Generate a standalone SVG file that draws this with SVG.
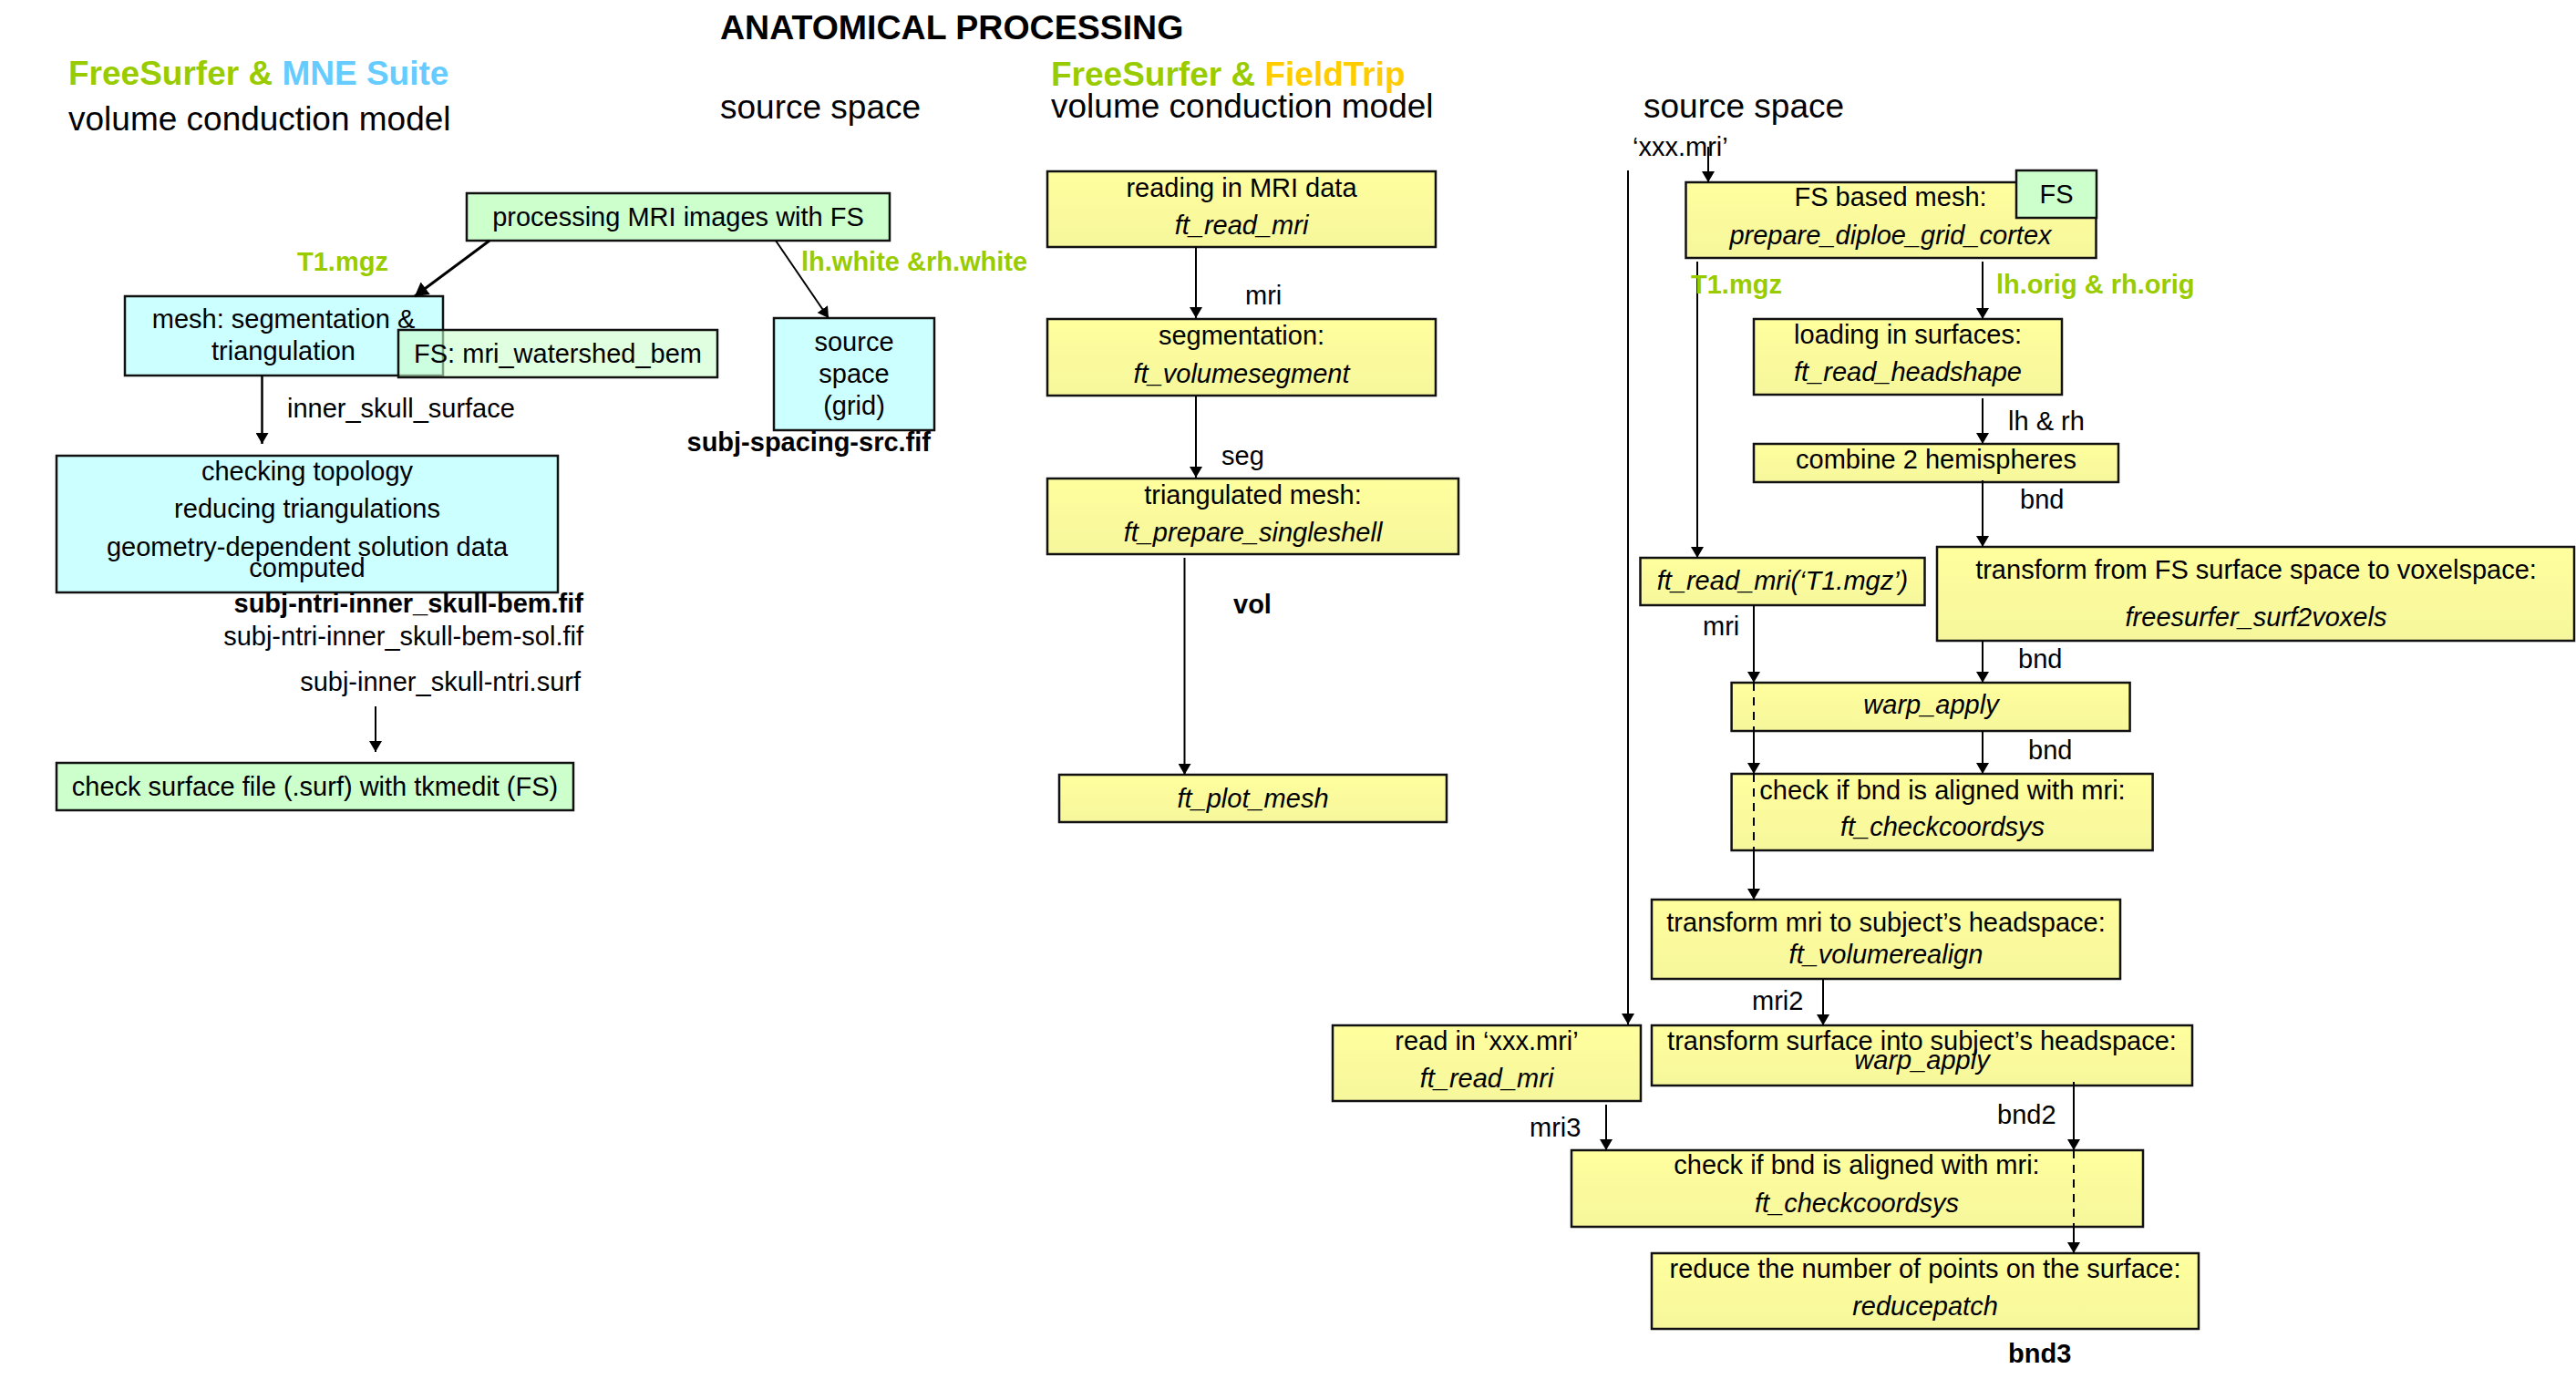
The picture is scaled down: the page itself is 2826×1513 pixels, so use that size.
<svg xmlns="http://www.w3.org/2000/svg" width="2826" height="1513" viewBox="0 0 2826 1513">
<defs>
<linearGradient id="yg" x1="0" y1="0" x2="0" y2="1">
<stop offset="0" stop-color="#FFFF9E"/>
<stop offset="1" stop-color="#F6F69C"/>
</linearGradient>
<marker id="ah" viewBox="0 0 12 14" refX="12" refY="7" markerWidth="12" markerHeight="14" markerUnits="userSpaceOnUse" orient="auto">
<path d="M0,0 L12,7 L0,14 z" fill="#000"/>
</marker>
<marker id="ahb" viewBox="0 0 12 14" refX="12" refY="7" markerWidth="15" markerHeight="17" markerUnits="userSpaceOnUse" orient="auto">
<path d="M0,0 L12,7 L0,14 z" fill="#000"/>
</marker>
</defs>
<style>
text{font-family:"Liberation Sans",Arial,sans-serif;fill:#000;}
.h{font-size:37px;}
.hb{font-size:37px;font-weight:bold;}
.t{font-size:29px;}
.c{text-anchor:middle;}
.i{font-style:italic;}
.b{font-weight:bold;}
.g{fill:#99CC00;}
.bl{fill:#66CCFF;}
.y{fill:#FFCC00;}
.box{stroke:#111;stroke-width:2.5;}
.yb{fill:url(#yg);}
.gb{fill:#CCFFCC;}
.cb{fill:#CCFFFF;}
.ln{stroke:#000;stroke-width:2;fill:none;}
.dl{stroke:#000;stroke-width:2;fill:none;stroke-dasharray:9,7;}
</style>

<g id="headers">
<text x="790" y="43" class="hb" style="font-size:37.5px">ANATOMICAL PROCESSING</text>
<text x="75" y="93" class="hb"><tspan class="g">FreeSurfer &amp; </tspan><tspan class="bl">MNE Suite</tspan></text>
<text x="75" y="143" class="h">volume conduction model</text>
<text x="790" y="130" class="h">source space</text>
<text x="1153" y="94" class="hb"><tspan class="g">FreeSurfer &amp; </tspan><tspan class="y">FieldTrip</tspan></text>
<text x="1153" y="129" class="h">volume conduction model</text>
<text x="1803" y="129" class="h">source space</text>
</g>

<g id="n_processing">
<rect x="512" y="212" width="464" height="52" class="box gb"/>
<text x="744" y="248" class="t c">processing MRI images with FS</text>
</g>
<g id="n_mesh">
<rect x="137" y="325" width="349" height="87" class="box cb"/>
<text x="311" y="360" class="t c">mesh: segmentation &amp;</text>
<text x="311" y="395" class="t c">triangulation</text>
</g>
<g id="n_fswatershed">
<rect x="437" y="362" width="350" height="52" class="box gb" fill-opacity="0.6"/>
<text x="612" y="398" class="t c">FS: mri_watershed_bem</text>
</g>
<g id="n_sourcegrid">
<rect x="849" y="349" width="176" height="123" class="box cb"/>
<text x="937" y="385" class="t c">source</text>
<text x="937" y="420" class="t c">space</text>
<text x="937" y="455" class="t c">(grid)</text>
<text x="1021" y="495" class="t b" text-anchor="end">subj-spacing-src.fif</text>
</g>
<g id="n_checking">
<rect x="62" y="500" width="550" height="150" class="box cb"/>
<text x="337" y="527" class="t c">checking topology</text>
<text x="337" y="568" class="t c">reducing triangulations</text>
<text x="337" y="610" class="t c">geometry-dependent solution data</text>
<text x="337" y="633" class="t c">computed</text>
<text x="640" y="672" class="t b" text-anchor="end">subj-ntri-inner_skull-bem.fif</text>
<text x="640" y="708" class="t" text-anchor="end">subj-ntri-inner_skull-bem-sol.fif</text>
<text x="637" y="758" class="t" text-anchor="end">subj-inner_skull-ntri.surf</text>
</g>
<g id="n_checksurf">
<rect x="62" y="837" width="567" height="52" class="box gb"/>
<text x="345.5" y="873" class="t c">check surface file (.surf) with tkmedit (FS)</text>
</g>

<g id="m_readmri">
<rect x="1149" y="188" width="426" height="83" class="box yb"/>
<text x="1362" y="216" class="t c">reading in MRI data</text>
<text x="1362" y="257" class="t c i">ft_read_mri</text>
</g>
<g id="m_segment">
<rect x="1149" y="350" width="426" height="84" class="box yb"/>
<text x="1362" y="378" class="t c">segmentation:</text>
<text x="1362" y="420" class="t c i">ft_volumesegment</text>
</g>
<g id="m_mesh">
<rect x="1149" y="525" width="451" height="83" class="box yb"/>
<text x="1374.5" y="553" class="t c">triangulated mesh:</text>
<text x="1374.5" y="594" class="t c i">ft_prepare_singleshell</text>
</g>
<g id="m_plot">
<rect x="1162" y="850" width="425" height="52" class="box yb"/>
<text x="1374.5" y="886" class="t c i">ft_plot_mesh</text>
</g>

<g id="r_fsmesh">
<rect x="1849.5" y="200" width="450" height="83" class="box yb"/>
<text x="2074" y="226" class="t c">FS based mesh:</text>
<text x="2074" y="268" class="t c i">prepare_diploe_grid_cortex</text>
</g>
<g id="r_fs">
<rect x="2212" y="187" width="88" height="52" class="box gb"/>
<text x="2256" y="223" class="t c">FS</text>
</g>
<g id="r_loading">
<rect x="1924" y="350" width="338" height="83" class="box yb"/>
<text x="2093" y="377" class="t c">loading in surfaces:</text>
<text x="2093" y="418" class="t c i">ft_read_headshape</text>
</g>
<g id="r_combine">
<rect x="1924" y="487" width="400" height="42" class="box yb"/>
<text x="2124" y="514" class="t c">combine 2 hemispheres</text>
</g>
<g id="r_surf2vox">
<rect x="2125" y="600" width="699" height="103" class="box yb"/>
<text x="2475" y="635" class="t c">transform from FS surface space to voxelspace:</text>
<text x="2475" y="687" class="t c i">freesurfer_surf2voxels</text>
</g>
<g id="r_readT1">
<rect x="1799.5" y="612" width="312" height="52" class="box yb"/>
<text x="1955.5" y="647" class="t c i">ft_read_mri(‘T1.mgz’)</text>
</g>
<g id="r_warp">
<rect x="1899.6" y="749" width="437" height="53" class="box yb"/>
<text x="2118.5" y="783" class="t c i">warp_apply</text>
</g>
<g id="r_check1">
<rect x="1899.6" y="849" width="462" height="84" class="box yb"/>
<text x="2131" y="877" class="t c">check if bnd is aligned with mri:</text>
<text x="2131" y="917" class="t c i">ft_checkcoordsys</text>
</g>
<g id="r_realign">
<rect x="1812" y="987" width="514" height="87" class="box yb"/>
<text x="2069" y="1022" class="t c">transform mri to subject’s headspace:</text>
<text x="2069" y="1057" class="t c i">ft_volumerealign</text>
</g>
<g id="r_readxxx">
<rect x="1462" y="1125" width="338" height="83" class="box yb"/>
<text x="1631" y="1152" class="t c">read in ‘xxx.mri’</text>
<text x="1631" y="1193" class="t c i">ft_read_mri</text>
</g>
<g id="r_warp2">
<rect x="1812" y="1125" width="593" height="66" class="box yb"/>
<text x="2108.5" y="1152" class="t c">transform surface into subject’s headspace:</text>
<text x="2108.5" y="1173" class="t c i">warp_apply</text>
</g>
<g id="r_check2">
<rect x="1724" y="1262" width="627" height="84" class="box yb"/>
<text x="2037" y="1288" class="t c">check if bnd is aligned with mri:</text>
<text x="2037" y="1330" class="t c i">ft_checkcoordsys</text>
</g>
<g id="r_reduce">
<rect x="1812" y="1375" width="600" height="83" class="box yb"/>
<text x="2112" y="1402" class="t c">reduce the number of points on the surface:</text>
<text x="2112" y="1443" class="t c i">reducepatch</text>
</g>

<g id="connectors">
<line x1="537" y1="264" x2="455" y2="325" class="ln" style="stroke-width:3" marker-end="url(#ahb)"/>
<line x1="851" y1="264" x2="909" y2="349" class="ln" marker-end="url(#ah)"/>
<line x1="287.5" y1="412" x2="287.5" y2="487" class="ln" style="stroke-width:2.5" marker-end="url(#ah)"/>
<line x1="412" y1="775" x2="412" y2="825" class="ln" marker-end="url(#ah)"/>

<line x1="1312" y1="271" x2="1312" y2="349" class="ln" marker-end="url(#ah)"/>
<line x1="1312" y1="434" x2="1312" y2="524" class="ln" marker-end="url(#ah)"/>
<line x1="1299.5" y1="612" x2="1299.5" y2="850" class="ln" marker-end="url(#ah)"/>

<line x1="1786" y1="187" x2="1786" y2="1124" class="ln" marker-end="url(#ah)"/>
<line x1="1874" y1="161" x2="1874" y2="200" class="ln" marker-end="url(#ah)"/>
<line x1="1862" y1="287" x2="1862" y2="612" class="ln" marker-end="url(#ah)"/>
<line x1="2175" y1="287" x2="2175" y2="350" class="ln" marker-end="url(#ah)"/>
<line x1="2175" y1="437" x2="2175" y2="487" class="ln" marker-end="url(#ah)"/>
<line x1="2175" y1="527" x2="2175" y2="600" class="ln" marker-end="url(#ah)"/>
<line x1="1924" y1="664" x2="1924" y2="749" class="ln" marker-end="url(#ah)"/>
<line x1="1924" y1="749" x2="1924" y2="802" class="dl"/>
<line x1="1924" y1="802" x2="1924" y2="849" class="ln" marker-end="url(#ah)"/>
<line x1="1924" y1="849" x2="1924" y2="933" class="dl"/>
<line x1="1924" y1="933" x2="1924" y2="987" class="ln" marker-end="url(#ah)"/>
<line x1="2175" y1="703" x2="2175" y2="749" class="ln" marker-end="url(#ah)"/>
<line x1="2175" y1="802" x2="2175" y2="849" class="ln" marker-end="url(#ah)"/>
<line x1="2000" y1="1074" x2="2000" y2="1125" class="ln" marker-end="url(#ah)"/>
<line x1="1762" y1="1212" x2="1762" y2="1262" class="ln" marker-end="url(#ah)"/>
<line x1="2275" y1="1187" x2="2275" y2="1262" class="ln" marker-end="url(#ah)"/>
<line x1="2275" y1="1262" x2="2275" y2="1346" class="dl"/>
<line x1="2275" y1="1346" x2="2275" y2="1375" class="ln" marker-end="url(#ah)"/>
</g>

<g id="labels">
<text x="326" y="297" class="t b g">T1.mgz</text>
<text x="879" y="297" class="t b g">lh.white &amp;rh.white</text>
<text x="315" y="458" class="t">inner_skull_surface</text>
<text x="1366" y="334" class="t">mri</text>
<text x="1340" y="510" class="t">seg</text>
<text x="1353" y="673" class="t b">vol</text>
<text x="1791" y="171" class="t">‘xxx.mri’</text>
<text x="1855" y="322" class="t b g">T1.mgz</text>
<text x="2190" y="322" class="t b g">lh.orig &amp; rh.orig</text>
<text x="2203" y="472" class="t">lh &amp; rh</text>
<text x="2216" y="558" class="t">bnd</text>
<text x="1868" y="697" class="t">mri</text>
<text x="2214" y="733" class="t">bnd</text>
<text x="2225" y="833" class="t">bnd</text>
<text x="1922" y="1108" class="t">mri2</text>
<text x="1678" y="1247" class="t">mri3</text>
<text x="2191" y="1233" class="t">bnd2</text>
<text x="2203" y="1495" class="t b">bnd3</text>
</g>
</svg>
